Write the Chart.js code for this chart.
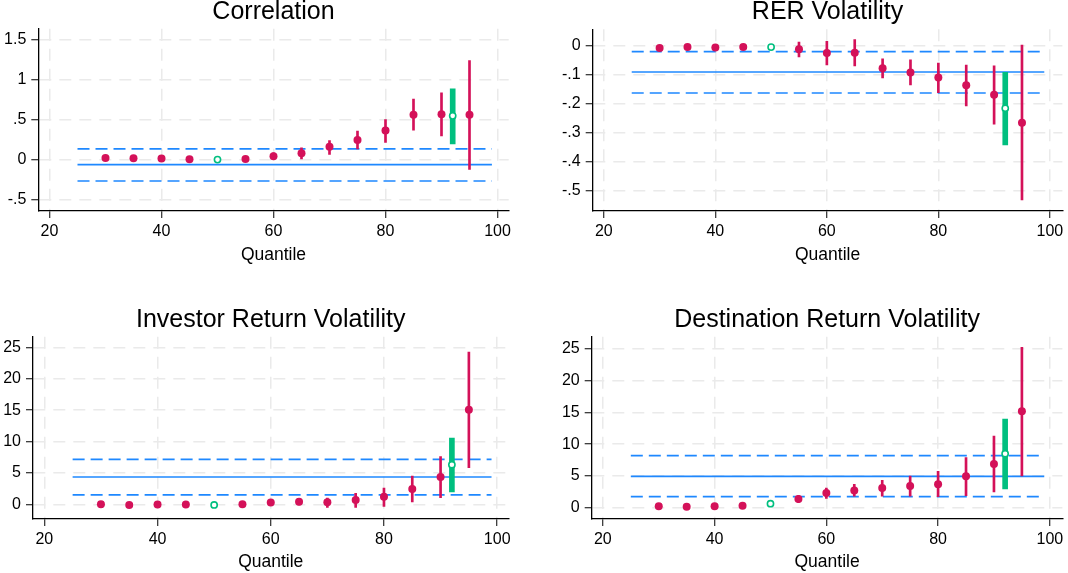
<!DOCTYPE html>
<html>
<head>
<meta charset="utf-8">
<script src="https://cdn.jsdelivr.net/npm/chart.js@4/dist/chart.umd.min.js"></script>
<style>
  html, body { margin: 0; padding: 0; background: #ffffff; }
  #wrap { position: relative; width: 1068px; height: 573px; overflow: hidden; background: #fff; }
  canvas { position: absolute; }
</style>
</head>
<body>
<div id="wrap">
  <canvas id="c1" width="534" height="290" style="left:0px;top:0px;"></canvas>
  <canvas id="c2" width="534" height="290" style="left:534px;top:0px;"></canvas>
  <canvas id="c3" width="534" height="283" style="left:0px;top:290px;"></canvas>
  <canvas id="c4" width="534" height="283" style="left:534px;top:290px;"></canvas>
</div>
<script>
// ---------------- DATA ----------------
const quantiles = [30, 35, 40, 45, 55, 60, 65, 70, 75, 80, 85, 90, 95];
const medianQuantile = 50;
const averageQuantile = 92;
const refLineX = [25, 99];
const xTicks = [20, 40, 60, 80, 100];

// Correlation
const corrEst = [0.025, 0.021, 0.017, 0.008, 0.0125, 0.046, 0.083, 0.163, 0.25, 0.367, 0.563, 0.571, 0.563];
const corrLo  = [0.015, 0.012, 0.008, 0.000, 0.004, 0.000, 0.0125, 0.07, 0.1375, 0.22, 0.37, 0.30, -0.117];
const corrHi  = [0.035, 0.030, 0.026, 0.016, 0.021, 0.0875, 0.15, 0.24, 0.36, 0.504, 0.758, 0.838, 1.238];
const corrMedian = 0.004;
const corrAvg = [0.55, 0.20, 0.888];          // estimate, low, high
const corrRef = [-0.058, -0.2625, 0.1375];    // line, lower band, upper band
const corrYTicks = [-0.5, 0, 0.5, 1, 1.5];

// RER Volatility
const rerEst = [-0.008, -0.005, -0.006, -0.005, -0.0126, -0.025, -0.024, -0.078, -0.092, -0.110, -0.1365, -0.1686, -0.265];
const rerLo  = [-0.012, -0.009, -0.010, -0.009, -0.039, -0.0665, -0.070, -0.111, -0.135, -0.162, -0.2075, -0.270, -0.531];
const rerHi  = [-0.004, -0.001, -0.002, -0.001, 0.0126, 0.015, 0.021, -0.045, -0.049, -0.060, -0.0665, -0.069, 0.002];
const rerMedian = -0.005;
const rerAvg = [-0.2156, -0.342, -0.0917];
const rerRef = [-0.0906, -0.163, -0.0206];
const rerYTicks = [-0.5, -0.4, -0.3, -0.2, -0.1, 0];

// Investor Return Volatility
const invEst = [0.0, -0.1, -0.05, -0.05, 0.0, 0.27, 0.42, 0.32, 0.69, 1.22, 2.44, 4.35, 15.07];
const invLo  = [-0.2, -0.3, -0.25, -0.25, -0.2, 0.0, -0.1, -0.48, -0.48, -0.32, 0.37, 1.06, 5.84];
const invHi  = [0.2, 0.1, 0.15, 0.15, 0.2, 0.55, 0.85, 1.0, 1.75, 2.6, 4.5, 7.6, 24.26];
const invMedian = -0.1;
const invAvg = [6.3, 1.96, 10.56];
const invRef = [4.35, 1.49, 7.17];
const volYTicks = [0, 5, 10, 15, 20, 25];

// Destination Return Volatility
const dstEst = [0.21, 0.16, 0.21, 0.31, 1.36, 2.3, 2.72, 3.09, 3.41, 3.67, 4.93, 6.87, 15.15];
const dstLo  = [0.05, 0.0, 0.05, 0.15, 0.84, 1.47, 1.83, 1.83, 1.83, 1.73, 1.89, 2.46, 4.98];
const dstHi  = [0.37, 0.32, 0.37, 0.47, 1.9, 3.1, 3.67, 4.3, 4.98, 5.71, 7.86, 11.27, 25.2];
const dstMedian = 0.63;
const dstAvg = [8.49, 2.94, 13.94];
const dstRef = [4.93, 1.73, 8.18];

// ---------------- STYLE ----------------
const BLUE = 'rgb(30,136,255)';
const RED = 'rgb(212,17,89)';
const GREEN = 'rgb(0,191,127)';
const GRID = '#eaeaea';
Chart.defaults.font.family = "'Liberation Sans', Arial, Helvetica, sans-serif";
Chart.defaults.color = '#000';

function stataFmt(v) {
  let s = String(Number(v.toFixed(3)));
  s = s.replace(/^(-?)0\./, '$1.');
  return s;
}

function makePanel(id, title, est, lo, hi, med, avg, ref, yTicks, lay) {
  const pts = quantiles.map((q, i) => ({x: q, y: est[i]}));
  const ci = quantiles.map((q, i) => ({x: q, y: [lo[i], hi[i]]}));
  const refLine = (v) => refLineX.map(x => ({x: x, y: v}));
  const datasets = [
    {type: 'scatter', data: pts, pointRadius: 4, pointBackgroundColor: RED, pointBorderWidth: 0, order: 0},
    {type: 'scatter', data: [{x: medianQuantile, y: med}, {x: averageQuantile, y: avg[0]}],
     pointRadius: 3.1, pointBackgroundColor: '#fff', pointBorderColor: GREEN, pointBorderWidth: 1.6, order: 1},
    {type: 'bar', data: [{x: averageQuantile, y: [avg[1], avg[2]]}], backgroundColor: GREEN,
     barThickness: 5, borderWidth: 0, grouped: false, order: 2},
    {type: 'bar', data: ci, backgroundColor: RED, barThickness: 2, borderWidth: 0, grouped: false, order: 3},
    {type: 'line', data: refLine(ref[0]), borderColor: BLUE, borderWidth: 1.7, pointRadius: 0, order: 4},
    {type: 'line', data: refLine(ref[1]), borderColor: BLUE, borderWidth: 1.7, borderDash: [12, 6], pointRadius: 0, order: 5},
    {type: 'line', data: refLine(ref[2]), borderColor: BLUE, borderWidth: 1.7, borderDash: [12, 6], pointRadius: 0, order: 6}
  ];
  const gridCommon = {
    color: GRID, lineWidth: 1.5, drawTicks: true,
    tickColor: '#000', tickLength: 7, tickWidth: 1, tickBorderDash: [], offset: false
  };
  const borderCommon = {display: true, color: '#000', width: 1.3, dash: [12, 8]};
  return new Chart(document.getElementById(id), {
    type: 'scatter',
    data: {datasets: datasets},
    options: {
      responsive: false, animation: false, devicePixelRatio: 1, events: [],
      layout: {padding: {top: lay.padTop, right: lay.padRight, left: 0, bottom: 0}},
      plugins: {
        legend: {display: false}, tooltip: {enabled: false},
        title: {display: true, text: title, fullSize: false, color: '#000',
                font: {size: 25, weight: 'normal', lineHeight: 1.0},
                padding: {top: 0, bottom: lay.titleBottom}}
      },
      scales: {
        x: {
          type: 'linear', min: 18, max: lay.xMax, offset: false,
          grid: gridCommon,
          border: borderCommon,
          ticks: {font: {size: 16}, color: '#000', padding: 3.5, maxRotation: 0, autoSkip: false,
                  callback: (v) => String(v)},
          afterBuildTicks: (s) => { s.ticks = xTicks.map(v => ({value: v})); },
          afterFit: (s) => { s.height = lay.xHeight; },
          title: {display: true, text: 'Quantile', color: '#000', font: {size: 17.5, lineHeight: 1.2},
                  padding: {top: 0, bottom: lay.xTitleBottom}}
        },
        y: {
          type: 'linear', min: lay.yMin, max: lay.yMax,
          grid: gridCommon,
          border: borderCommon,
          ticks: {font: {size: 16}, color: '#000', padding: 5, autoSkip: false,
                  callback: (v) => stataFmt(v)},
          afterBuildTicks: (s) => { s.ticks = yTicks.map(v => ({value: v})); },
          afterFit: (s) => { s.width = lay.yWidth; }
        }
      }
    }
  });
}

makePanel('c1', 'Correlation', corrEst, corrLo, corrHi, corrMedian, corrAvg, corrRef, corrYTicks,
  {padTop: 0, padRight: 25.3, titleBottom: 3.7, xHeight: 79, xTitleBottom: 24, yWidth: 38.3, xMax: 102, yMin: -0.637, yMax: 1.637});
makePanel('c2', 'RER Volatility', rerEst, rerLo, rerHi, rerMedian, rerAvg, rerRef, rerYTicks,
  {padTop: 0, padRight: 1, titleBottom: 4.3, xHeight: 79, xTitleBottom: 24, yWidth: 58.7, xMax: 102.25, yMin: -0.569, yMax: 0.0563});
makePanel('c3', 'Investor Return Volatility', invEst, invLo, invHi, invMedian, invAvg, invRef, volYTicks,
  {padTop: 17.2, padRight: 25.5, titleBottom: 4.5, xHeight: 54, xTitleBottom: 0, yWidth: 33, xMax: 102, yMin: -2.34, yMax: 26.69});
makePanel('c4', 'Destination Return Volatility', dstEst, dstLo, dstHi, dstMedian, dstAvg, dstRef, volYTicks,
  {padTop: 17.2, padRight: 1, titleBottom: 4.5, xHeight: 54, xTitleBottom: 0, yWidth: 57.7, xMax: 102.25, yMin: -1.78, yMax: 26.89});
</script>
</body>
</html>
